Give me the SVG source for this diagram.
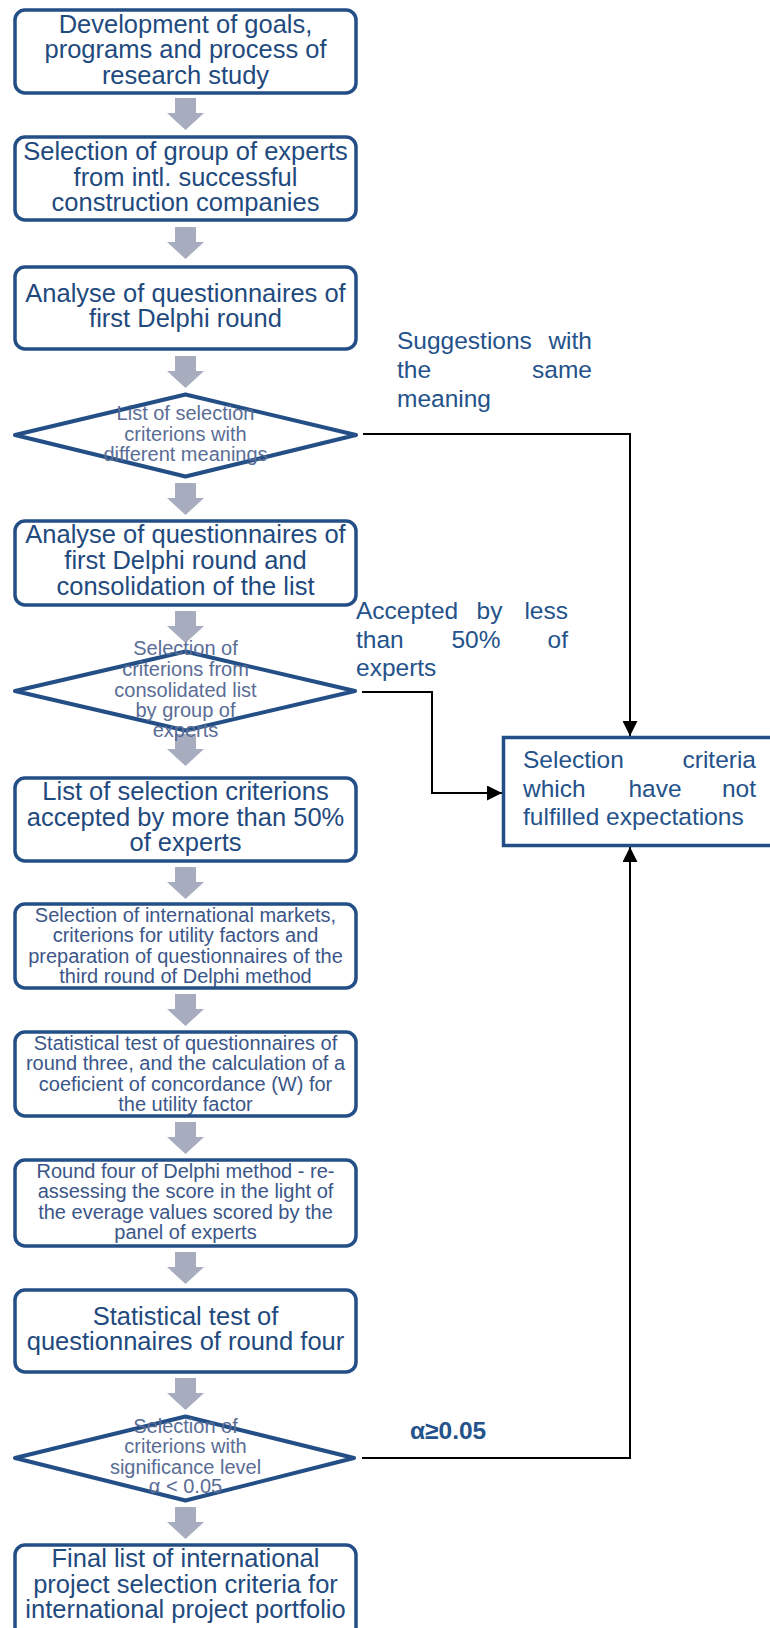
<svg xmlns="http://www.w3.org/2000/svg" width="770" height="1628" viewBox="0 0 770 1628">
  <style>
    .box{fill:#fff;stroke:#234f86;stroke-width:3.5}
    .dia{fill:#fff;stroke:#234f86;stroke-width:4;stroke-linejoin:round}
    .t{font-family:"Liberation Sans",Arial,sans-serif;text-anchor:middle}
    .big{font-size:25.5px;fill:#1f4a7e}
    .small{font-size:20px;fill:#3b5688}
    .dtext{font-size:20px;fill:#5a6d96}
    .lbl{font-family:"Liberation Sans",Arial,sans-serif;font-size:24.5px;fill:#24528a}
    .conn{fill:none;stroke:#000;stroke-width:2}
    .flow{fill:#a7adbf}
  </style>
  <defs>
    <!-- wide grey block arrow between steps -->
    <path id="down" d="M-10.5 0H10.5V15H18.5L0 32L-18.5 15H-10.5Z"/>
    <marker id="ah" markerUnits="userSpaceOnUse" markerWidth="15" markerHeight="15" viewBox="0 0 14 14" refX="14" refY="7" orient="auto">
      <path d="M0 0L14 7L0 14Z" fill="#000"/>
    </marker>
  </defs>

  <rect width="770" height="1628" fill="#fff"/>

  <!-- block arrows of the main flow -->
  <g id="flow-arrows" class="flow">
    <use href="#down" x="185.5" y="98"/>
    <use href="#down" x="185.5" y="227"/>
    <use href="#down" x="185.5" y="356"/>
    <use href="#down" x="185.5" y="483"/>
    <use href="#down" x="185.5" y="611"/>
    <use href="#down" x="185.5" y="734"/>
    <use href="#down" x="185.5" y="867"/>
    <use href="#down" x="185.5" y="994"/>
    <use href="#down" x="185.5" y="1122"/>
    <use href="#down" x="185.5" y="1252"/>
    <use href="#down" x="185.5" y="1378"/>
    <use href="#down" x="185.5" y="1507"/>
  </g>

  <!-- side connectors -->
  <g id="connectors">
    <path class="conn" d="M363 434H630V736" marker-end="url(#ah)"/>
    <path class="conn" d="M362 692H432V793H502" marker-end="url(#ah)"/>
    <path class="conn" d="M362 1458H630V847" marker-end="url(#ah)"/>
  </g>

  <g id="n1">
    <rect class="box" x="15" y="10" width="341" height="83" rx="10"/>
    <text class="t big" x="185.5" y="32.5">Development of goals,</text>
    <text class="t big" x="185.5" y="58">programs and process of</text>
    <text class="t big" x="185.5" y="83.5">research study</text>
  </g>

  <g id="n2">
    <rect class="box" x="15" y="137" width="341" height="83" rx="10"/>
    <text class="t big" x="185.5" y="160">Selection of group of experts</text>
    <text class="t big" x="185.5" y="186">from intl. successful</text>
    <text class="t big" x="185.5" y="211">construction companies</text>
  </g>

  <g id="n3">
    <rect class="box" x="15" y="267" width="341" height="82" rx="10"/>
    <text class="t big" x="185.5" y="302">Analyse of questionnaires of</text>
    <text class="t big" x="185.5" y="327">first Delphi round</text>
  </g>

  <g id="d1">
    <polygon class="dia" points="15,435 185.5,394.5 356,435 185.5,476.5"/>
    <text class="t dtext" x="185.5" y="420" font-size="19.5px">List of selection</text>
    <text class="t dtext" x="185.5" y="440.5" font-size="19.5px">criterions with</text>
    <text class="t dtext" x="185.5" y="461" font-size="19.5px">different meanings</text>
  </g>

  <g id="n4">
    <rect class="box" x="15" y="521" width="341" height="84" rx="10"/>
    <text class="t big" x="185.5" y="543">Analyse of questionnaires of</text>
    <text class="t big" x="185.5" y="569">first Delphi round and</text>
    <text class="t big" x="185.5" y="595">consolidation of the list</text>
  </g>

  <g id="d2">
    <polygon class="dia" points="15,691 185.5,651.5 355,691 185.5,730.5"/>
    <text class="t dtext" x="185.5" y="655">Selection of</text>
    <text class="t dtext" x="185.5" y="676">criterions from</text>
    <text class="t dtext" x="185.5" y="697">consolidated list</text>
    <text class="t dtext" x="185.5" y="717">by group of</text>
    <text class="t dtext" x="185.5" y="737">experts</text>
  </g>

  <g id="n5">
    <rect class="box" x="15" y="778" width="341" height="83" rx="10"/>
    <text class="t big" x="185.5" y="800">List of selection criterions</text>
    <text class="t big" x="185.5" y="826">accepted by more than 50%</text>
    <text class="t big" x="185.5" y="851">of experts</text>
  </g>

  <g id="n6">
    <rect class="box" x="15" y="904" width="341" height="84" rx="10"/>
    <text class="t small" x="185.5" y="922">Selection of international markets,</text>
    <text class="t small" x="185.5" y="942">criterions for utility factors and</text>
    <text class="t small" x="185.5" y="962.5">preparation of questionnaires of the</text>
    <text class="t small" x="185.5" y="983">third round of Delphi method</text>
  </g>

  <g id="n7">
    <rect class="box" x="15" y="1032" width="341" height="84" rx="10"/>
    <text class="t small" x="185.5" y="1050">Statistical test of questionnaires of</text>
    <text class="t small" x="185.5" y="1070">round three, and the calculation of a</text>
    <text class="t small" x="185.5" y="1091">coeficient of concordance (W) for</text>
    <text class="t small" x="185.5" y="1111">the utility factor</text>
  </g>

  <g id="n8">
    <rect class="box" x="15" y="1160" width="341" height="86" rx="10"/>
    <text class="t small" x="185.5" y="1178">Round four of Delphi method - re-</text>
    <text class="t small" x="185.5" y="1198">assessing the score in the light of</text>
    <text class="t small" x="185.5" y="1219">the everage values scored by the</text>
    <text class="t small" x="185.5" y="1239">panel of experts</text>
  </g>

  <g id="n9">
    <rect class="box" x="15" y="1290" width="341" height="82" rx="10"/>
    <text class="t big" x="185.5" y="1325">Statistical test of</text>
    <text class="t big" x="185.5" y="1350">questionnaires of round four</text>
  </g>

  <g id="d3">
    <polygon class="dia" points="15,1458 185.5,1416.5 354,1458 185.5,1500.5"/>
    <text class="t dtext" x="185.5" y="1433">Selection of</text>
    <text class="t dtext" x="185.5" y="1453">criterions with</text>
    <text class="t dtext" x="185.5" y="1474">significance level</text>
    <text class="t dtext" x="185.5" y="1493">α &lt; 0.05</text>
  </g>

  <g id="n10">
    <rect class="box" x="15" y="1545" width="341" height="100" rx="10"/>
    <text class="t big" x="185.5" y="1567">Final list of international</text>
    <text class="t big" x="185.5" y="1593">project selection criteria for</text>
    <text class="t big" x="185.5" y="1618">international project portfolio</text>
  </g>

  <g id="r1">
    <rect x="503.5" y="737.5" width="290" height="108" fill="#fff" stroke="#234f86" stroke-width="3.5"/>
    <text class="lbl" y="768"><tspan x="523">Selection</tspan><tspan x="756" text-anchor="end">criteria</tspan></text>
    <text class="lbl" y="797"><tspan x="523">which</tspan><tspan x="655" text-anchor="middle">have</tspan><tspan x="756" text-anchor="end">not</tspan></text>
    <text class="lbl" x="523" y="825">fulfilled expectations</text>
  </g>

  <!-- connector labels -->
  <g id="labels">
    <text class="lbl" y="349"><tspan x="397">Suggestions</tspan><tspan x="592" text-anchor="end">with</tspan></text>
    <text class="lbl" y="378"><tspan x="397">the</tspan><tspan x="592" text-anchor="end">same</tspan></text>
    <text class="lbl" x="397" y="407">meaning</text>

    <text class="lbl" y="619"><tspan x="356">Accepted</tspan><tspan x="489.5" text-anchor="middle">by</tspan><tspan x="568" text-anchor="end">less</tspan></text>
    <text class="lbl" y="648"><tspan x="356">than</tspan><tspan x="476" text-anchor="middle">50%</tspan><tspan x="568" text-anchor="end">of</tspan></text>
    <text class="lbl" x="356" y="676">experts</text>

    <text class="lbl" x="410" y="1439" font-weight="bold" font-size="24px" fill="#1f4e85">α≥0.05</text>
  </g>
</svg>
